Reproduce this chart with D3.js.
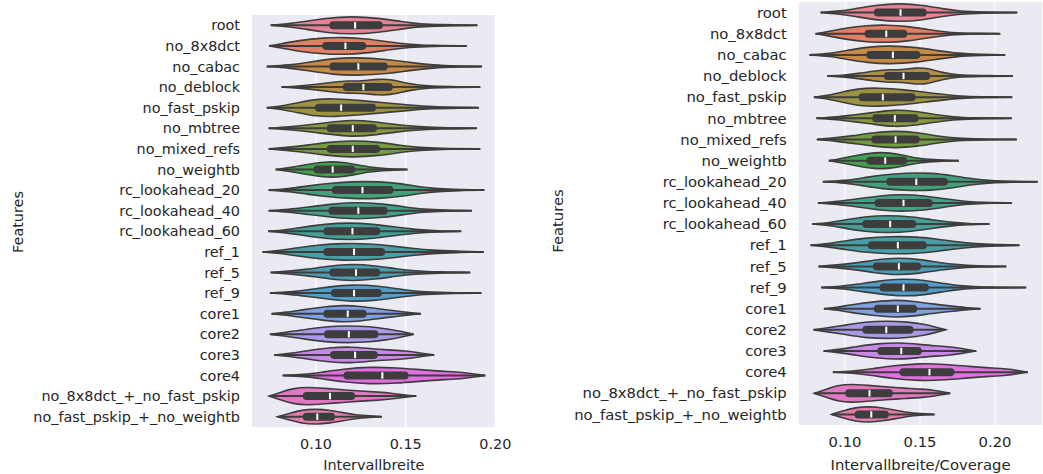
<!DOCTYPE html>
<html>
<head>
<meta charset="utf-8">
<script src="https://cdn.jsdelivr.net/npm/d3@7"></script>
<style>
  body { margin: 0; background: #fff; }
  text { font-family: "DejaVu Sans", sans-serif; fill: #262626; }
</style>
</head>
<body>
<script>
// categories (top to bottom)
var features = ["root", "no_8x8dct", "no_cabac", "no_deblock", "no_fast_pskip", "no_mbtree",
  "no_mixed_refs", "no_weightb", "rc_lookahead_20", "rc_lookahead_40", "rc_lookahead_60",
  "ref_1", "ref_5", "ref_9", "core1", "core2", "core3", "core4",
  "no_8x8dct_+_no_fast_pskip", "no_fast_pskip_+_no_weightb"];

// seaborn husl palette (20 colours), desaturated later like violinplot does
var palette = ["#f77189", "#f7754f", "#dc8932", "#c39532", "#ae9d31", "#97a431", "#77ab31",
  "#31b33e", "#33b07a", "#35ae93", "#36ada4", "#37abb4", "#38a9c5", "#3aa5df", "#6e9bf4",
  "#a48cf4", "#cc7af4", "#f45cf2", "#f565cc", "#f66bad"];

var xTicks = [0.10, 0.15, 0.20];

// [whisker low, q1, median, q3, whisker high]
var widthStats = [
  [0.0747, 0.1074, 0.1218, 0.1373, 0.1900],
  [0.0739, 0.1034, 0.1164, 0.1280, 0.1840],
  [0.0725, 0.1074, 0.1236, 0.1400, 0.1926],
  [0.0808, 0.1149, 0.1264, 0.1428, 0.1916],
  [0.0725, 0.0994, 0.1140, 0.1335, 0.1909],
  [0.0736, 0.1060, 0.1205, 0.1340, 0.1898],
  [0.0736, 0.1060, 0.1205, 0.1358, 0.1916],
  [0.0775, 0.0985, 0.1093, 0.1218, 0.1510],
  [0.0736, 0.1088, 0.1259, 0.1432, 0.1939],
  [0.0736, 0.1069, 0.1236, 0.1400, 0.1870],
  [0.0733, 0.1041, 0.1203, 0.1358, 0.1810],
  [0.0702, 0.1041, 0.1212, 0.1385, 0.1935],
  [0.0747, 0.1074, 0.1223, 0.1358, 0.1860],
  [0.0743, 0.1084, 0.1212, 0.1367, 0.1922],
  [0.0752, 0.1041, 0.1177, 0.1283, 0.1585],
  [0.0743, 0.1045, 0.1183, 0.1348, 0.1544],
  [0.0767, 0.1078, 0.1218, 0.1345, 0.1659],
  [0.0814, 0.1153, 0.1370, 0.1516, 0.1944],
  [0.0739, 0.0926, 0.1078, 0.1218, 0.1559],
  [0.0786, 0.0926, 0.1007, 0.1106, 0.1367]
];

// violin outlines: [value, relative half width]
var widthDensity = [
  [[0.0747,0],[0.082,0.1],[0.092,0.35],[0.105,0.8],[0.12,1.0],[0.135,0.8],[0.148,0.4],[0.158,0.15],[0.17,0.07],[0.19,0]],
  [[0.0739,0],[0.08,0.2],[0.09,0.6],[0.105,0.9],[0.115,0.95],[0.128,0.8],[0.14,0.45],[0.152,0.15],[0.165,0.05],[0.184,0]],
  [[0.0725,0],[0.085,0.15],[0.095,0.45],[0.11,0.9],[0.122,1.0],[0.14,0.8],[0.152,0.45],[0.165,0.15],[0.18,0.05],[0.1926,0]],
  [[0.0808,0],[0.09,0.1],[0.1,0.3],[0.11,0.55],[0.118,0.7],[0.125,0.65],[0.135,0.9],[0.142,0.85],[0.152,0.35],[0.162,0.1],[0.175,0.05],[0.1916,0]],
  [[0.0725,0],[0.08,0.15],[0.09,0.55],[0.1,0.95],[0.11,1.0],[0.125,0.8],[0.14,0.5],[0.152,0.3],[0.165,0.1],[0.18,0.04],[0.1909,0]],
  [[0.0736,0],[0.085,0.15],[0.095,0.35],[0.105,0.6],[0.12,0.95],[0.132,0.75],[0.145,0.4],[0.155,0.2],[0.168,0.06],[0.1898,0]],
  [[0.0736,0],[0.085,0.2],[0.095,0.4],[0.105,0.7],[0.12,0.95],[0.135,0.75],[0.148,0.35],[0.16,0.12],[0.175,0.04],[0.1916,0]],
  [[0.0775,0],[0.085,0.2],[0.095,0.55],[0.107,0.9],[0.115,0.8],[0.122,0.55],[0.13,0.25],[0.138,0.1],[0.151,0]],
  [[0.0736,0],[0.085,0.15],[0.095,0.45],[0.105,0.7],[0.12,0.95],[0.135,0.95],[0.148,0.7],[0.158,0.35],[0.168,0.15],[0.18,0.05],[0.1939,0]],
  [[0.0736,0],[0.085,0.15],[0.095,0.4],[0.11,0.75],[0.122,0.95],[0.138,0.75],[0.15,0.4],[0.16,0.15],[0.172,0.05],[0.187,0]],
  [[0.0733,0],[0.083,0.15],[0.093,0.45],[0.105,0.8],[0.118,0.95],[0.132,0.8],[0.145,0.45],[0.155,0.2],[0.168,0.05],[0.181,0]],
  [[0.0702,0],[0.08,0.15],[0.09,0.45],[0.1,0.75],[0.115,0.95],[0.13,0.9],[0.143,0.65],[0.155,0.35],[0.165,0.18],[0.178,0.08],[0.1935,0]],
  [[0.0747,0],[0.085,0.15],[0.095,0.35],[0.107,0.7],[0.12,0.95],[0.133,0.75],[0.145,0.4],[0.155,0.18],[0.168,0.06],[0.186,0]],
  [[0.0743,0],[0.085,0.12],[0.095,0.35],[0.108,0.7],[0.12,0.95],[0.135,0.8],[0.148,0.4],[0.158,0.15],[0.172,0.05],[0.1922,0]],
  [[0.0752,0],[0.083,0.15],[0.093,0.45],[0.105,0.75],[0.115,0.95],[0.126,0.8],[0.136,0.5],[0.145,0.3],[0.152,0.12],[0.1585,0]],
  [[0.0743,0],[0.083,0.2],[0.093,0.5],[0.105,0.85],[0.118,0.95],[0.13,0.85],[0.14,0.6],[0.148,0.3],[0.1544,0]],
  [[0.0767,0],[0.085,0.15],[0.095,0.45],[0.107,0.8],[0.12,0.9],[0.13,0.7],[0.14,0.55],[0.15,0.45],[0.158,0.2],[0.1659,0]],
  [[0.0814,0],[0.093,0.1],[0.103,0.35],[0.115,0.7],[0.13,0.95],[0.145,0.85],[0.16,0.6],[0.172,0.45],[0.182,0.35],[0.19,0.12],[0.1944,0]],
  [[0.0739,0],[0.08,0.4],[0.087,0.85],[0.095,1.0],[0.105,0.85],[0.115,0.7],[0.125,0.55],[0.135,0.45],[0.143,0.3],[0.15,0.12],[0.1559,0]],
  [[0.0786,0],[0.085,0.35],[0.092,0.75],[0.1,0.85],[0.108,0.7],[0.115,0.45],[0.122,0.2],[0.13,0.08],[0.1367,0]]
];

var coverageStats = [
  [0.0837, 0.1192, 0.1370, 0.1545, 0.2148],
  [0.0803, 0.1130, 0.1275, 0.1415, 0.2035],
  [0.0763, 0.1141, 0.1319, 0.1503, 0.2068],
  [0.0881, 0.1259, 0.1390, 0.1568, 0.2119],
  [0.0792, 0.1090, 0.1252, 0.1470, 0.2115],
  [0.0808, 0.1181, 0.1332, 0.1490, 0.2112],
  [0.0812, 0.1175, 0.1337, 0.1497, 0.2145],
  [0.0892, 0.1141, 0.1268, 0.1415, 0.1759],
  [0.0852, 0.1275, 0.1475, 0.1685, 0.2285],
  [0.0819, 0.1197, 0.1390, 0.1585, 0.2112],
  [0.0781, 0.1115, 0.1301, 0.1475, 0.1963],
  [0.0770, 0.1152, 0.1352, 0.1545, 0.2163],
  [0.0823, 0.1185, 0.1359, 0.1508, 0.2075],
  [0.0841, 0.1230, 0.1390, 0.1559, 0.2208],
  [0.0859, 0.1192, 0.1352, 0.1481, 0.1903],
  [0.0790, 0.1115, 0.1275, 0.1457, 0.1670],
  [0.0857, 0.1215, 0.1375, 0.1512, 0.1875],
  [0.0919, 0.1363, 0.1563, 0.1730, 0.2219],
  [0.0795, 0.1001, 0.1163, 0.1319, 0.1701],
  [0.0912, 0.1063, 0.1175, 0.1292, 0.1597]
];

var coverageDensity = [
  [[0.0837,0],[0.095,0.15],[0.105,0.35],[0.12,0.8],[0.137,1.0],[0.152,0.8],[0.165,0.4],[0.177,0.15],[0.19,0.06],[0.2148,0]],
  [[0.0803,0],[0.088,0.2],[0.1,0.6],[0.115,0.9],[0.128,0.95],[0.142,0.8],[0.155,0.45],[0.168,0.15],[0.18,0.05],[0.2035,0]],
  [[0.0763,0],[0.09,0.15],[0.1,0.45],[0.115,0.85],[0.13,1.0],[0.148,0.8],[0.162,0.45],[0.175,0.15],[0.19,0.05],[0.2068,0]],
  [[0.0881,0],[0.1,0.1],[0.11,0.3],[0.12,0.55],[0.13,0.7],[0.137,0.65],[0.148,0.9],[0.155,0.85],[0.165,0.35],[0.175,0.1],[0.19,0.05],[0.2119,0]],
  [[0.0792,0],[0.088,0.15],[0.098,0.55],[0.11,0.95],[0.122,1.0],[0.14,0.8],[0.155,0.5],[0.168,0.25],[0.18,0.08],[0.195,0.03],[0.2115,0]],
  [[0.0808,0],[0.095,0.15],[0.105,0.35],[0.118,0.6],[0.133,0.95],[0.147,0.75],[0.16,0.4],[0.172,0.15],[0.185,0.05],[0.2112,0]],
  [[0.0812,0],[0.095,0.2],[0.105,0.4],[0.118,0.7],[0.133,0.95],[0.148,0.75],[0.162,0.35],[0.175,0.12],[0.19,0.04],[0.2145,0]],
  [[0.0892,0],[0.097,0.2],[0.107,0.55],[0.12,0.9],[0.13,0.85],[0.14,0.55],[0.148,0.25],[0.158,0.1],[0.1759,0]],
  [[0.0852,0],[0.1,0.12],[0.113,0.45],[0.125,0.75],[0.14,0.95],[0.158,0.95],[0.172,0.65],[0.185,0.3],[0.198,0.1],[0.21,0.05],[0.2285,0]],
  [[0.0819,0],[0.095,0.15],[0.107,0.4],[0.122,0.75],[0.137,0.95],[0.155,0.75],[0.168,0.4],[0.18,0.15],[0.192,0.05],[0.2112,0]],
  [[0.0781,0],[0.09,0.15],[0.1,0.45],[0.113,0.8],[0.128,0.95],[0.145,0.8],[0.158,0.45],[0.17,0.2],[0.182,0.05],[0.1963,0]],
  [[0.077,0],[0.088,0.15],[0.1,0.45],[0.112,0.75],[0.13,0.95],[0.148,0.9],[0.162,0.65],[0.175,0.35],[0.187,0.18],[0.2,0.08],[0.2163,0]],
  [[0.0823,0],[0.095,0.15],[0.107,0.35],[0.12,0.7],[0.135,0.95],[0.15,0.75],[0.163,0.4],[0.175,0.18],[0.188,0.06],[0.2075,0]],
  [[0.0841,0],[0.097,0.12],[0.108,0.35],[0.123,0.7],[0.138,0.95],[0.153,0.8],[0.167,0.4],[0.178,0.15],[0.192,0.05],[0.2208,0]],
  [[0.0859,0],[0.095,0.15],[0.105,0.45],[0.12,0.75],[0.133,0.95],[0.146,0.8],[0.158,0.5],[0.17,0.3],[0.18,0.12],[0.1903,0]],
  [[0.079,0],[0.088,0.2],[0.1,0.5],[0.113,0.85],[0.128,0.95],[0.142,0.85],[0.153,0.6],[0.16,0.3],[0.167,0]],
  [[0.0857,0],[0.095,0.15],[0.107,0.45],[0.122,0.8],[0.137,0.9],[0.15,0.7],[0.16,0.55],[0.17,0.45],[0.18,0.2],[0.1875,0]],
  [[0.0919,0],[0.105,0.1],[0.118,0.35],[0.132,0.7],[0.15,0.95],[0.167,0.85],[0.183,0.6],[0.197,0.45],[0.208,0.35],[0.217,0.12],[0.2219,0]],
  [[0.0795,0],[0.087,0.4],[0.095,0.85],[0.104,1.0],[0.115,0.85],[0.127,0.7],[0.14,0.55],[0.152,0.45],[0.16,0.3],[0.166,0.12],[0.1701,0]],
  [[0.0912,0],[0.098,0.35],[0.107,0.75],[0.116,0.85],[0.125,0.7],[0.134,0.45],[0.142,0.2],[0.15,0.08],[0.1597,0]]
];

var W = 1043, H = 474;
var lineGray = "#3d3d3d";

var svg = d3.select("body").append("svg")
  .attr("width", W)
  .attr("height", H);

function desat(c) {
  var h = d3.hsl(c);
  h.s = h.s * 0.75; // seaborn violinplot saturation=.75
  return h.formatHex();
}

function drawPanel(p) {
  var x = d3.scaleLinear().domain(p.domain).range([p.left, p.right]);
  var y = d3.scaleBand().domain(features).range([p.top, p.bottom]);
  var half = y.bandwidth() * 0.44;

  var g = svg.append("g");
  var clipId = "clip" + p.id;
  g.append("clipPath").attr("id", clipId)
    .append("rect")
    .attr("x", p.left).attr("y", p.top)
    .attr("width", p.right - p.left).attr("height", p.bottom - p.top);

  g.append("rect")
    .attr("x", p.left).attr("y", p.top)
    .attr("width", p.right - p.left).attr("height", p.bottom - p.top)
    .attr("fill", "#eaeaf2");

  g.selectAll(".grid").data(xTicks).enter().append("line")
    .attr("x1", function(d) { return x(d); })
    .attr("x2", function(d) { return x(d); })
    .attr("y1", p.top).attr("y2", p.bottom)
    .attr("stroke", "#fff").attr("stroke-width", 1.2);

  var plot = g.append("g").attr("clip-path", "url(#" + clipId + ")");

  features.forEach(function(f, i) {
    var cy = y(f) + y.bandwidth() / 2;
    var st = p.stats[i];
    var area = d3.area()
      .curve(d3.curveBasis)
      .x(function(d) { return x(d[0]); })
      .y0(function(d) { return cy - d[1] * half; })
      .y1(function(d) { return cy + d[1] * half; });

    plot.append("path")
      .attr("d", area(p.density[i]))
      .attr("fill", desat(palette[i]))
      .attr("stroke", lineGray)
      .attr("stroke-width", 1.6);

    // whisker
    plot.append("line")
      .attr("x1", x(st[0])).attr("x2", x(st[4]))
      .attr("y1", cy).attr("y2", cy)
      .attr("stroke", lineGray).attr("stroke-width", 2);

    // box
    plot.append("rect")
      .attr("x", x(st[1])).attr("y", cy - 4)
      .attr("width", x(st[3]) - x(st[1])).attr("height", 8)
      .attr("rx", 3.8)
      .attr("fill", lineGray);

    // median
    plot.append("rect")
      .attr("x", x(st[2]) - 1).attr("y", cy - 3.2)
      .attr("width", 2).attr("height", 6.4)
      .attr("fill", "#fff");
  });

  // x tick labels
  g.selectAll(".xt").data(xTicks).enter().append("text")
    .attr("x", function(d) { return x(d); })
    .attr("y", p.bottom + 17)
    .attr("dy", "0.35em")
    .attr("text-anchor", "middle")
    .attr("font-size", p.font)
    .text(function(d) { return d3.format(".2f")(d); });

  // y tick labels
  g.selectAll(".yt").data(features).enter().append("text")
    .attr("x", p.left - 12)
    .attr("y", function(d) { return y(d) + y.bandwidth() / 2; })
    .attr("dy", "0.35em")
    .attr("text-anchor", "end")
    .attr("font-size", p.font)
    .text(function(d) { return d; });

  g.append("text")
    .attr("x", (p.left + p.right) / 2)
    .attr("y", 465)
    .attr("dy", "0.35em")
    .attr("text-anchor", "middle")
    .attr("font-size", p.font)
    .text(p.xlabel);

  g.append("text")
    .attr("transform", "translate(" + p.ylabelX + "," + p.ylabelY + ") rotate(-90)")
    .attr("dy", "0.35em")
    .attr("text-anchor", "middle")
    .attr("font-size", p.font)
    .text("Features");
}

drawPanel({
  id: "a", domain: [0.0643, 0.2002], left: 252, right: 495.7, top: 15, bottom: 427,
  stats: widthStats, density: widthDensity, xlabel: "Intervallbreite",
  ylabelX: 18, ylabelY: 222, font: 14.4
});

drawPanel({
  id: "b", domain: [0.0691, 0.2316], left: 798.7, right: 1042.4, top: 2, bottom: 425,
  stats: coverageStats, density: coverageDensity, xlabel: "Intervallbreite/Coverage",
  ylabelX: 558, ylabelY: 221, font: 14.8
});
</script>
</body>
</html>
